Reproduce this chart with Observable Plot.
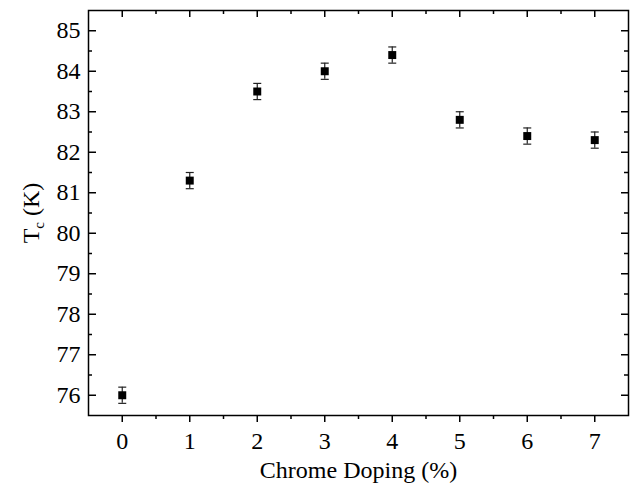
<!DOCTYPE html>
<html>
<head>
<meta charset="utf-8">
<script src="https://cdn.jsdelivr.net/npm/d3@7"></script>
<script src="https://cdn.jsdelivr.net/npm/@observablehq/plot@0.6"></script>
<style>
  html, body { margin: 0; padding: 0; background: #fff; }
  #chart svg { display: block; }
</style>
</head>
<body>
<div id="chart"></div>
<script>
// Data
const doping = [0, 1, 2, 3, 4, 5, 6, 7];              // Chrome doping (%)
const tc = [76.0, 81.3, 83.5, 84.0, 84.4, 82.8, 82.4, 82.3]; // Tc (K)
const tcErr = [0.2, 0.2, 0.2, 0.2, 0.2, 0.2, 0.2, 0.2];

const xMajor = [0, 1, 2, 3, 4, 5, 6, 7];
const xMinor = [0.5, 1.5, 2.5, 3.5, 4.5, 5.5, 6.5];
const yMajor = [76, 77, 78, 79, 80, 81, 82, 83, 84, 85];
const yMinor = [76.5, 77.5, 78.5, 79.5, 80.5, 81.5, 82.5, 83.5, 84.5];

const xLabel = "Chrome Doping (%)";
const yLabel = "Tc (K)";

const rows = doping.map((d, i) => ({x: d, y: tc[i], lo: tc[i] - tcErr[i], hi: tc[i] + tcErr[i]}));

const W = 633, H = 488;
const mL = 88, mR = 5, mT = 10, mB = 73;
const pw = W - mL - mR, ph = H - mT - mB;
const FONT = "'Liberation Serif', 'Times New Roman', Times, serif";

const capSymbol = {
  draw(context, size) {
    const w = Math.sqrt(size / Math.PI);
    context.moveTo(-w, 0);
    context.lineTo(w, 0);
  }
};

const chart = Plot.plot({
  width: W,
  height: H,
  marginLeft: mL,
  marginRight: mR,
  marginTop: mT,
  marginBottom: mB,
  style: {fontFamily: FONT, fontSize: "24px", color: "#000", background: "#fff"},
  x: {domain: [-0.5, 7.5]},
  y: {domain: [75.5, 85.5]},
  marks: [
    // bottom axis (outward ticks)
    Plot.axisX({ticks: xMajor, tickSize: 7, tickPadding: 9, tickFormat: d => String(d), label: null, strokeWidth: 1.5, fontSize: 24, fill: "#000"}),
    Plot.axisX({ticks: xMinor, tickSize: 4, text: null, label: null, strokeWidth: 1.5}),
    // top inward ticks
    Plot.tickX(xMajor, {x: d => d, insetBottom: ph - 7, stroke: "#000", strokeWidth: 1.5}),
    Plot.tickX(xMinor, {x: d => d, insetBottom: ph - 4, stroke: "#000", strokeWidth: 1.5}),
    // left axis labels + inward ticks
    Plot.axisY({ticks: yMajor, tickSize: 0, tickPadding: 8, tickFormat: d => String(d), label: null, fontSize: 24, fill: "#000"}),
    Plot.tickY(yMajor, {y: d => d, insetRight: pw - 8, stroke: "#000", strokeWidth: 1.5}),
    Plot.tickY(yMinor, {y: d => d, insetRight: pw - 4, stroke: "#000", strokeWidth: 1.5}),
    // right inward ticks
    Plot.tickY(yMajor, {y: d => d, insetLeft: pw - 7, stroke: "#000", strokeWidth: 1.5}),
    Plot.tickY(yMinor, {y: d => d, insetLeft: pw - 4, stroke: "#000", strokeWidth: 1.5}),
    Plot.frame({stroke: "#000", strokeWidth: 1.5}),
    // error bars
    Plot.ruleX(rows, {x: "x", y1: "lo", y2: "hi", stroke: "#222", strokeWidth: 1.2}),
    Plot.dot(rows, {x: "x", y: "lo", symbol: capSymbol, r: 4, stroke: "#222", strokeWidth: 1.2}),
    Plot.dot(rows, {x: "x", y: "hi", symbol: capSymbol, r: 4, stroke: "#222", strokeWidth: 1.2}),
    // markers
    Plot.dot(rows, {x: "x", y: "y", symbol: "square", r: 4.5, fill: "#000", stroke: null}),
    // axis titles
    Plot.text([xLabel], {frameAnchor: "bottom", dy: 55, lineAnchor: "middle", fontSize: 24, fill: "#000"}),
    Plot.text([yLabel], {frameAnchor: "left", dx: -57, rotate: -90, textAnchor: "middle", lineAnchor: "middle", fontSize: 24, fill: "#000", className: "ylab"})
  ]
});

// Subscript "c" in the y-axis title
const t = d3.select(chart).select("g.ylab text");
if (!t.empty()) {
  t.text(null);
  t.append("tspan").text("T");
  t.append("tspan").attr("font-size", 15).attr("dy", "0.35em").text("c");
  t.append("tspan").attr("dy", "-0.23em").text(" (K)");
  t.attr("fill", "#000");
}

document.getElementById("chart").appendChild(chart);
</script>
</body>
</html>
